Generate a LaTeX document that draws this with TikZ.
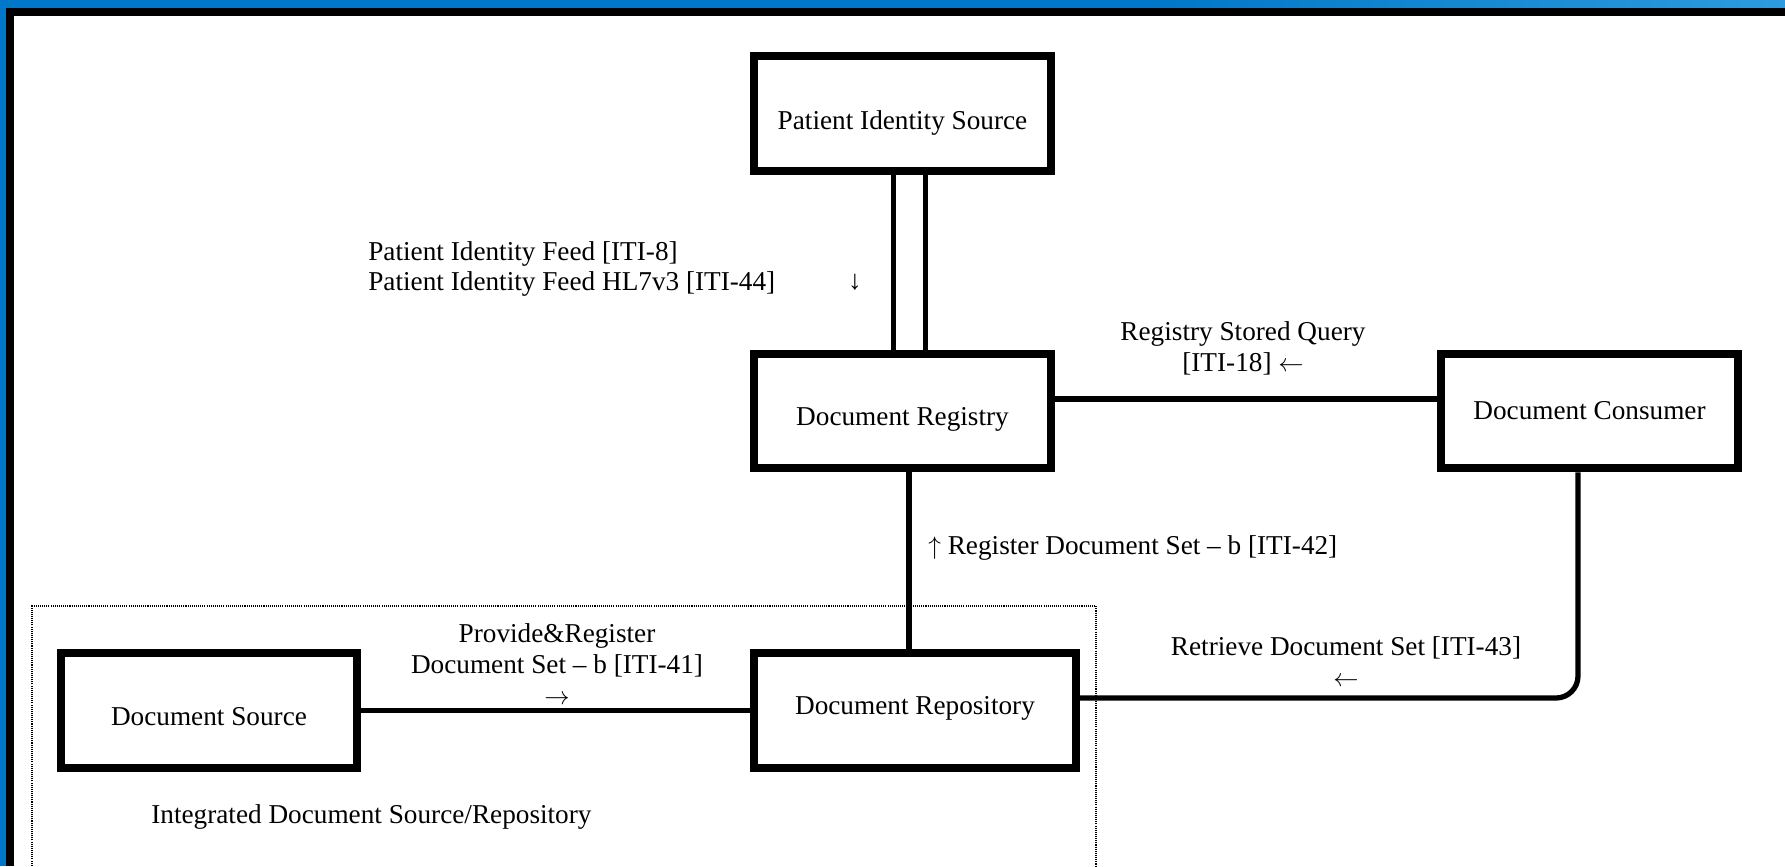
\documentclass[tikz,border=0pt]{standalone}
\usepackage{fontspec}
\setmainfont{Liberation Serif}
\definecolor{barblue}{RGB}{0,119,200}
\definecolor{barlight}{RGB}{45,155,222}

\begin{document}
\begin{tikzpicture}[x=0.02cm, y=-0.02cm,
                actor/.style={rectangle, draw=black, line width=0.16cm, fill=white, minimum width=5.94cm, minimum height=2.3cm, text centered, inner sep=0pt, text height=0.38cm, text depth=0.11cm, font=\fontsize{15.5}{17.6}\selectfont},
                txn/.style={inner sep=0pt, align=center, font=\fontsize{15.5}{17.6}\selectfont},
                link/.style={draw=black, line width=0.105cm}
            ]
            \useasboundingbox (0,0) rectangle (1785,866);
            % frame
            \fill[barblue] (0,0) rectangle (1785,8);
            \shade[left color=barblue, right color=barlight] (1150,0) rectangle (1785,8);
            \fill[barblue] (0,0) rectangle (6,866);
            \fill[black] (6,8) rectangle (1785,16);
            \fill[black] (6,8) rectangle (14,866);

            % integrated source/repository group
            \draw[line width=0.03cm, dash pattern=on 0.6pt off 0.6pt] (32,870) -- (32,606) -- (1096,606) -- (1096,870);
            \node (GroupLabel) [txn, anchor=west] at (151,817) {Integrated Document Source/Repository};

            % actors
            \node (PatientSource) [actor, text height=0.76cm] at (902.5,113.5) {Patient Identity Source};
            \node (Registry) [actor, text height=0.70cm] at (902.5,411) {Document Registry};
            \node (Consumer) [actor, text depth=0.11cm, text height=0.44cm] at (1589.5,411) {Document Consumer};
            \node (Source) [actor, text height=0.72cm] at (209,710.5) {Document Source};
            \node (Repository) [actor, text depth=0.22cm, minimum width=6.44cm] at (915,710.5) {Document Repository};

            % transactions
            \draw[link, line width=0.1cm] ([xshift=-0.19cm]PatientSource.south) -- ([xshift=-0.19cm]Registry.north);
            \draw[link, line width=0.1cm] ([xshift=0.45cm]PatientSource.south) -- ([xshift=0.45cm]Registry.north);
            \draw[link] ([yshift=0.24cm]Registry.east) -- ([yshift=0.24cm]Registry.east -| Consumer.west);
            \draw[link, line width=0.12cm] ([xshift=0.13cm]Registry.south) -- ([xshift=0.13cm]Registry.south |- Repository.north);
            \draw[link] (Source.east) -- (Source.east -| Repository.west);
            \draw[link, rounded corners=0.44cm] ([yshift=0.25cm]Repository.east) -| ([xshift=-0.23cm]Consumer.south);

            \node (FeedLabel) [txn, anchor=west, align=left] at (368,269) {Patient Identity Feed [ITI-8]\\Patient Identity Feed HL7v3 [ITI-44]};
            \node (FeedArrow) [txn] at (855,282) {↓};
            \node (QueryLabel) [txn] at (1243,348) {Registry Stored Query\\{}[ITI-18] $\leftarrow$};
            \node (RegisterLabel) [txn, anchor=west] at (928,548) {$\uparrow$ Register Document Set – b [ITI-42]};
            \node (ProvideLabel) [txn] at (557,664) {Provide\&Register\\Document Set – b [ITI-41]\\$\rightarrow$};
            \node (RetrieveLabel) [txn] at (1346,662) {Retrieve Document Set [ITI-43]\\$\leftarrow$};
\end{tikzpicture}
\end{document}
